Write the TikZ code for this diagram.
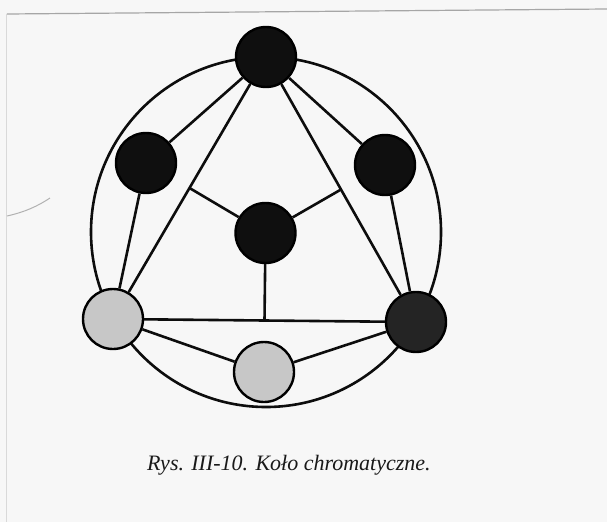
\documentclass[tikz,border=0pt]{standalone}
\usepackage{fontspec}
\setmainfont{Liberation Serif}
\usetikzlibrary{calc}
\begin{document}
\begin{tikzpicture}[x=1pt,y=-1pt,
  edge/.style={line width=2.6pt,black!95},
  dot/.style={circle,draw=black,line width=2.4pt,minimum size=60pt,inner sep=0pt},
  darkdot/.style={dot,fill=black!94},
  greydot/.style={dot,fill=black!86},
  lightdot/.style={dot,fill=black!22},
  paper/.style={line width=1.2pt,black!35}]
\fill[black!3] (0,0) rectangle (607,522);
\useasboundingbox (0,0) rectangle (607,522);
% scan artefacts
\draw[paper] (7,14) -- (607,9);
\draw[paper,black!15,line width=0.8pt] (6,14) -- (6,522);
\draw[paper,black!30,line width=1pt] (7,216) .. controls (25,212) and (38,206) .. (50,198);
% geometry
\coordinate (C) at (266,232);
\draw[edge] (C) circle (175);
\node[darkdot] (top) at (266,57) {};
\node[lightdot] (bl) at (113,319) {};
\node[greydot] (br) at (416,322) {};
\node[darkdot] (lu) at (146,163) {};
\node[darkdot] (ru) at (385,165) {};
\node[lightdot] (bm) at (264,372) {};
\node[darkdot] (mid) at (265.5,233) {};
\coordinate (ml) at ($(top)!0.5!(bl)$);
\coordinate (mr) at ($(top)!0.5!(br)$);
\coordinate (mb) at ($(bl)!0.5!(br)$);
\draw[edge] (top) -- (bl);
\draw[edge] (top) -- (br);
\draw[edge] (bl) -- (br);
\draw[edge] (top) -- (lu);
\draw[edge] (top) -- (ru);
\draw[edge] (lu) -- (bl);
\draw[edge] (ru) -- (br);
\draw[edge] (bl) -- (bm);
\draw[edge] (bm) -- (br);
\draw[edge] (mid) -- (ml);
\draw[edge] (mid) -- (mr);
\draw[edge] (mid) -- (mb);
\node[anchor=base west,font=\fontsize{22}{26}\selectfont\itshape,text=black!90,inner sep=0pt] (cap) at (147,470) {Rys. III-10. Koło chromatyczne.};
\end{tikzpicture}
\end{document}
